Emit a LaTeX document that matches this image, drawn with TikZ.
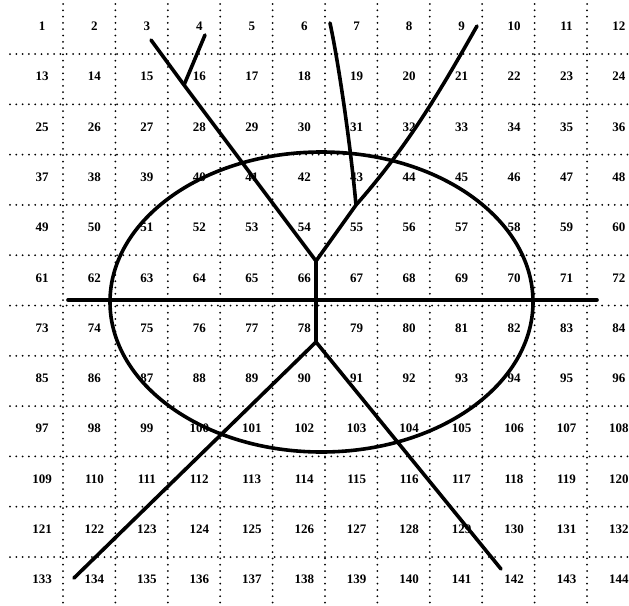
\documentclass[tikz,border=0pt]{standalone}
\usepackage{fontspec}
\setmainfont{Liberation Serif}
\tikzset{
  gridline/.style={line width=2pt,line cap=round,dash pattern=on 0pt off 6.3pt},
  stroke/.style={line width=3.6pt,line cap=round,line join=round},
  cellnum/.style={font=\fontsize{13}{15}\selectfont\bfseries,inner sep=0pt,
    text height=9pt,text depth=0pt},
}
\begin{document}
\begin{tikzpicture}[x=1pt,y=-1pt]
  \useasboundingbox (0,0) rectangle (629,605);
  % dotted grid
  \foreach \k in {0,...,10} {
    \draw[gridline] ({63+52.4*\k},4) -- ({63+52.4*\k},605);
    \draw[gridline] (10,{54+50.3*\k}) -- (629,{54+50.3*\k});
  }
  % cell numbers 1..144
  \foreach \r in {0,...,11} {
    \foreach \c in {0,...,11} {
      \pgfmathtruncatemacro{\n}{12*\r+\c+1}
      \node[cellnum] (c\n) at ({42+52.45*\c},{26+50.3*\r}) {\n};
    }
  }
  % points of the figure
  \coordinate (ctr) at (321.5,302);
  \coordinate (hl) at (68,300);
  \coordinate (hr) at (597,300);
  \coordinate (ja) at (316,261);
  \coordinate (jb) at (356,205);
  \coordinate (jc) at (316,342);
  \coordinate (jd) at (184,85);
  \coordinate (e3) at (151,40);
  \coordinate (e4) at (205,35);
  \coordinate (e7) at (330,23);
  \coordinate (e9) at (477,26);
  \coordinate (e134) at (74,578);
  \coordinate (e142) at (501,569);
  % figure
  \draw[stroke] (ctr) ellipse [x radius=211.5pt,y radius=150pt];
  \draw[stroke] (hl) -- (hr);
  \draw[stroke] (ja) -- (jc);
  \draw[stroke] (ja) -- (jd) -- (e3);
  \draw[stroke] (jd) -- (e4);
  \draw[stroke] (ja) -- (jb);
  \draw[stroke] (jb) .. controls (350,140) and (338,60) .. (e7);
  \draw[stroke] (jb) .. controls (409,145) and (443,86) .. (e9);
  \draw[stroke] (jc) -- (e134);
  \draw[stroke] (jc) -- (e142);
\end{tikzpicture}
\end{document}
